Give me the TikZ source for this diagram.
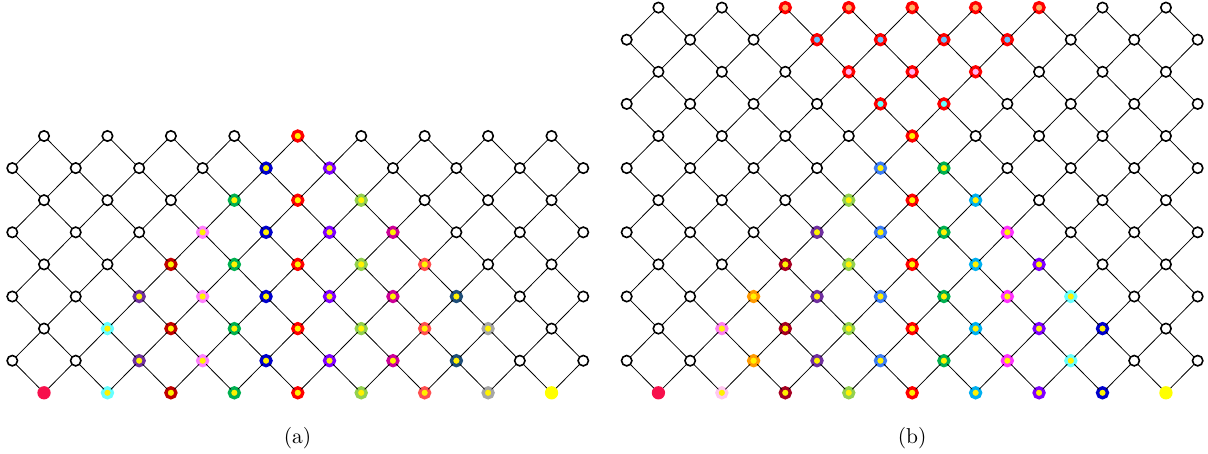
\documentclass[tikz,border=0pt]{standalone}
\definecolor{ca1}{HTML}{F7104C}
\definecolor{ca3}{HTML}{66FFFF}
\definecolor{ca4}{HTML}{7030A0}
\definecolor{ca5}{HTML}{C00000}
\definecolor{ca6}{HTML}{FF80FF}
\definecolor{ca7}{HTML}{00B050}
\definecolor{ca8}{HTML}{0000CC}
\definecolor{ca9}{HTML}{FF0000}
\definecolor{ca10}{HTML}{7F00FF}
\definecolor{ca11}{HTML}{92D050}
\definecolor{ca12}{HTML}{CC0099}
\definecolor{ca13}{HTML}{FF5050}
\definecolor{ca14}{HTML}{1F4E79}
\definecolor{ca15}{HTML}{A6A6A6}
\definecolor{ca17}{HTML}{FFFF00}
\definecolor{cb1}{HTML}{F7104C}
\definecolor{cb3}{HTML}{FF80F0}
\definecolor{cb3z}{HTML}{FFC8F0}
\definecolor{cb4}{HTML}{FF9900}
\definecolor{cb5}{HTML}{A50021}
\definecolor{cb6}{HTML}{7030A0}
\definecolor{cb7}{HTML}{92D050}
\definecolor{cb8}{HTML}{3C7DF5}
\definecolor{cb9}{HTML}{FF0000}
\definecolor{cb10}{HTML}{00B050}
\definecolor{cb11}{HTML}{00B0F0}
\definecolor{cb12}{HTML}{FF33FF}
\definecolor{cb13}{HTML}{7F00FF}
\definecolor{cb14}{HTML}{66FFFF}
\definecolor{cb15}{HTML}{0000CC}
\definecolor{cb17}{HTML}{FFFF00}
\definecolor{rf9}{HTML}{66FFFF}
\definecolor{rf10}{HTML}{FFB3F0}
\definecolor{rf11}{HTML}{66C2FF}
\definecolor{rf12}{HTML}{FFB366}
\tikzset{
  vtx/.style={circle, draw=black, line width=1.6pt, fill=white, minimum size=10.4pt, inner sep=0pt, outer sep=0pt},
  ring/.style={vtx, draw=#1, line width=3.3pt, fill=yellow, minimum size=10pt},
  ringf/.style 2 args={vtx, draw=#1, line width=3.3pt, fill=#2, minimum size=10pt},
  full/.style={circle, fill=#1, draw=none, minimum size=13.3pt, inner sep=0pt, outer sep=0pt},
  edge/.style={draw=black, line width=0.8pt},
  lab/.style={inner sep=0pt, scale=2.15}
}
\begin{document}
\begin{tikzpicture}[x=1pt,y=-1pt]
\useasboundingbox (0,0) rectangle (1208,454);
% ---------- (a) nodes ----------
\foreach \j in {0,...,8}{
  \foreach \i in {0,...,18}{
    \pgfmathtruncatemacro\pp{mod(\i+\j,2)}
    \ifnum\pp=1
      \pgfmathtruncatemacro\myd{abs(\i-9)}
      \pgfmathtruncatemacro\myc{((\j==0)&&(\myd<=8))||((\j==1)&&(\myd<=5))||((\j>=2)&&(\myd<=8-\j))}
      \pgfmathsetmacro\xx{12.3+31.72*\i}
      \pgfmathsetmacro\yy{392.8-32.1*\j}
      \ifnum\myc=1
        \ifnum\myd=8
          \node[full=ca\i] (a-\i-\j) at (\xx,\yy) {};
        \else
          \node[ring=ca\i] (a-\i-\j) at (\xx,\yy) {};
        \fi
      \else
        \node[vtx] (a-\i-\j) at (\xx,\yy) {};
      \fi
    \fi
  }
}
% ---------- (a) edges ----------
\foreach \j in {0,...,7}{
  \foreach \i in {0,...,18}{
    \pgfmathtruncatemacro\pp{mod(\i+\j,2)}
    \ifnum\pp=1
      \pgfmathtruncatemacro\jn{\j+1}
      \pgfmathtruncatemacro\il{\i-1}
      \pgfmathtruncatemacro\ir{\i+1}
      \ifnum\i>0 \draw[edge] (a-\i-\j) -- (a-\il-\jn); \fi
      \ifnum\i<18 \draw[edge] (a-\i-\j) -- (a-\ir-\jn); \fi
    \fi
  }
}
% ---------- (b) nodes ----------
\foreach \j in {0,...,12}{
  \foreach \i in {0,...,18}{
    \pgfmathtruncatemacro\pp{mod(\i+\j,2)}
    \ifnum\pp=1
      \pgfmathtruncatemacro\myd{abs(\i-9)}
      \pgfmathtruncatemacro\myc{((\j==0)&&(\myd<=8))||((\j==1)&&(\myd<=5))||((\j>=2)&&(\myd<=8-\j))}
      \pgfmathtruncatemacro\myu{(\j>=9)&&(\myd<=\j-8)}
      \pgfmathsetmacro\xx{626.7+31.72*\i}
      \pgfmathsetmacro\yy{392.8-32.1*\j}
      \ifnum\myc=1
        \ifnum\myd=8
          \node[full=cb\i] (b-\i-\j) at (\xx,\yy) {};
        \else
          \ifnum\i=3
            \ifnum\j=0
              \node[ring=cb3z] (b-\i-\j) at (\xx,\yy) {};
            \else
              \node[ring=cb3] (b-\i-\j) at (\xx,\yy) {};
            \fi
          \else
            \node[ring=cb\i] (b-\i-\j) at (\xx,\yy) {};
          \fi
        \fi
      \else
        \ifnum\myu=1
          \node[ringf={cb9}{rf\j}] (b-\i-\j) at (\xx,\yy) {};
        \else
          \node[vtx] (b-\i-\j) at (\xx,\yy) {};
        \fi
      \fi
    \fi
  }
}
% ---------- (b) edges ----------
\foreach \j in {0,...,11}{
  \foreach \i in {0,...,18}{
    \pgfmathtruncatemacro\pp{mod(\i+\j,2)}
    \ifnum\pp=1
      \pgfmathtruncatemacro\jn{\j+1}
      \pgfmathtruncatemacro\il{\i-1}
      \pgfmathtruncatemacro\ir{\i+1}
      \ifnum\i>0 \draw[edge] (b-\i-\j) -- (b-\il-\jn); \fi
      \ifnum\i<18 \draw[edge] (b-\i-\j) -- (b-\ir-\jn); \fi
    \fi
  }
}
% ---------- labels ----------
\node[lab] (la) at (297.5,438) {(a)};
\node[lab] (lb) at (912.2,438) {(b)};
\end{tikzpicture}
\end{document}
